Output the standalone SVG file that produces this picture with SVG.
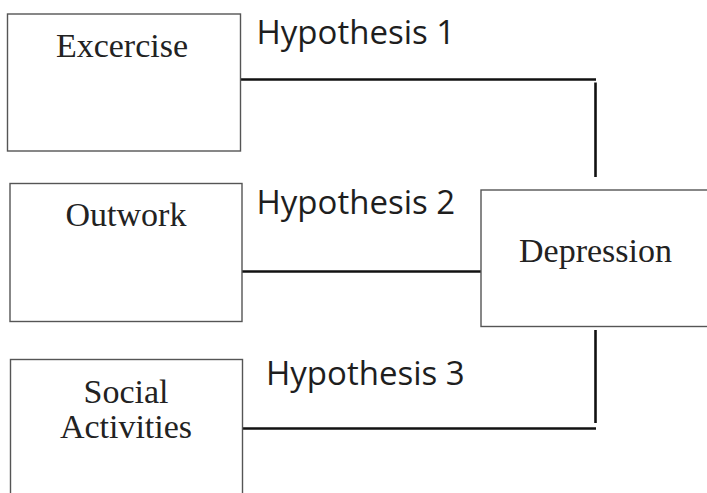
<svg xmlns="http://www.w3.org/2000/svg" width="707" height="493" viewBox="0 0 707 493">
<style>
.box{fill:#fff;stroke:#555;stroke-width:1.4}
.lbl{font-family:"Liberation Serif","Times New Roman",serif;font-size:34px;fill:#222;text-anchor:middle}
.hyp{font-family:"Open Sans","Liberation Sans",sans-serif;font-size:33px;fill:#1e1e1e}
.con{stroke:#111;stroke-width:2.6;fill:none}
</style>
<rect width="707" height="493" fill="#fff"/>
<g id="connectors">
<line class="con" x1="241" y1="79.5" x2="596" y2="79.5"/>
<line class="con" x1="595.5" y1="82.5" x2="595.5" y2="177"/>
<line class="con" x1="242" y1="271.5" x2="481" y2="271.5"/>
<line class="con" x1="243" y1="428.5" x2="596" y2="428.5"/>
<line class="con" x1="595.5" y1="330" x2="595.5" y2="423"/>
</g>
<g id="excercise">
<rect class="box" x="7.5" y="14" width="233" height="137"/>
<text class="lbl" x="122" y="57">Excercise</text>
</g>
<g id="outwork">
<rect class="box" x="10" y="183.5" width="232" height="138"/>
<text class="lbl" x="126" y="226">Outwork</text>
</g>
<g id="social">
<rect class="box" x="10.5" y="359.5" width="232" height="160"/>
<text class="lbl" x="126" y="403">Social</text>
<text class="lbl" x="126" y="438">Activities</text>
</g>
<g id="depression">
<rect class="box" x="481" y="190" width="250" height="136.5"/>
<text class="lbl" x="595.5" y="261.5">Depression</text>
</g>
<g id="labels">
<text class="hyp" x="256.5" y="43.5">Hypothesis 1</text>
<text class="hyp" x="256.5" y="213.5">Hypothesis 2</text>
<text class="hyp" x="266" y="385">Hypothesis 3</text>
</g>
</svg>
